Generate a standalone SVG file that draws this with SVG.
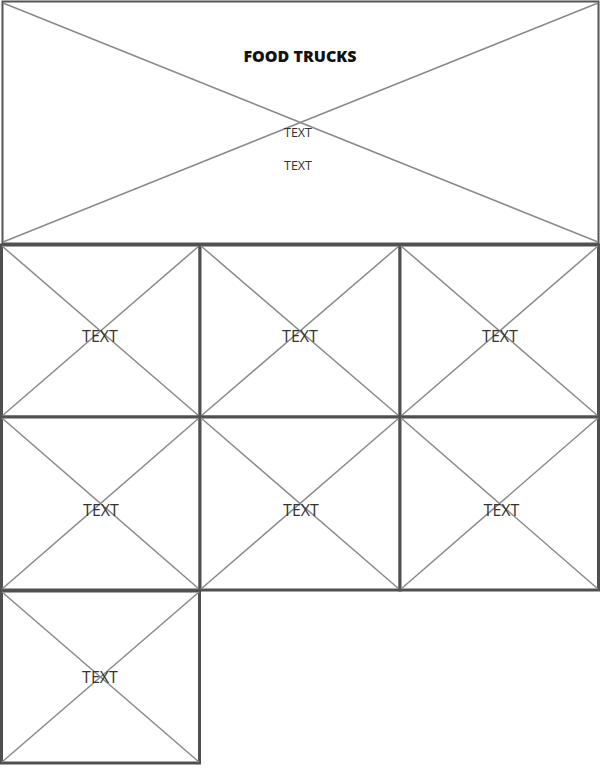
<svg xmlns="http://www.w3.org/2000/svg" width="600" height="769" viewBox="0 0 600 769">
<style>
.box{fill:#fff;stroke:#505050;stroke-width:3}
.hdr{fill:#fff;stroke:#555;stroke-width:2}
.x{stroke:#8a8a8a;stroke-width:1.5;fill:none}
.t{font-family:"Open Sans","Liberation Sans",sans-serif;fill:#333;text-anchor:middle}
.big{font-size:16px}
.small{font-size:12.5px}
.title{font-family:"Open Sans","Liberation Sans",sans-serif;font-weight:800;font-size:16px;fill:#111;text-anchor:middle}
</style>
<rect width="600" height="769" fill="#fff"/>
<g id="header">
<rect class="hdr" x="2.5" y="1.5" width="596" height="242"/>
<line class="x" x1="3" y1="3" x2="598" y2="242"/>
<line class="x" x1="3" y1="242" x2="598" y2="3"/>
<text class="title" x="300" y="62">FOOD TRUCKS</text>
<text class="t small" x="298" y="136.5">TEXT</text>
<text class="t small" x="298" y="170">TEXT</text>
</g>
<g id="cell1">
<rect class="box" x="1.5" y="245" width="198.5" height="172"/>
<line class="x" x1="2" y1="246" x2="199" y2="416"/>
<line class="x" x1="2" y1="416" x2="199" y2="246"/>
<text class="t big" x="100" y="342">TEXT</text>
</g>
<g id="cell2">
<rect class="box" x="200" y="245" width="200" height="172"/>
<line class="x" x1="201" y1="246" x2="399" y2="416"/>
<line class="x" x1="201" y1="416" x2="399" y2="246"/>
<text class="t big" x="300" y="342">TEXT</text>
</g>
<g id="cell3">
<rect class="box" x="400" y="245" width="198.5" height="172"/>
<line class="x" x1="401" y1="246" x2="598" y2="416"/>
<line class="x" x1="401" y1="416" x2="598" y2="246"/>
<text class="t big" x="500" y="342">TEXT</text>
</g>
<g id="cell4">
<rect class="box" x="1.5" y="417" width="198.5" height="173"/>
<line class="x" x1="2" y1="418" x2="199" y2="589"/>
<line class="x" x1="2" y1="589" x2="199" y2="418"/>
<text class="t big" x="101" y="516">TEXT</text>
</g>
<g id="cell5">
<rect class="box" x="200" y="417" width="200" height="173"/>
<line class="x" x1="201" y1="418" x2="399" y2="589"/>
<line class="x" x1="201" y1="589" x2="399" y2="418"/>
<text class="t big" x="301" y="516">TEXT</text>
</g>
<g id="cell6">
<rect class="box" x="400" y="417" width="198.5" height="173"/>
<line class="x" x1="401" y1="418" x2="598" y2="589"/>
<line class="x" x1="401" y1="589" x2="598" y2="418"/>
<text class="t big" x="501.5" y="516">TEXT</text>
</g>
<g id="cell7">
<rect class="box" x="1.5" y="591" width="198" height="172"/>
<line class="x" x1="2" y1="592" x2="199" y2="762"/>
<line class="x" x1="2" y1="762" x2="199" y2="592"/>
<text class="t big" x="100" y="683">TEXT</text>
</g>
<g id="connectors"></g>
</svg>
